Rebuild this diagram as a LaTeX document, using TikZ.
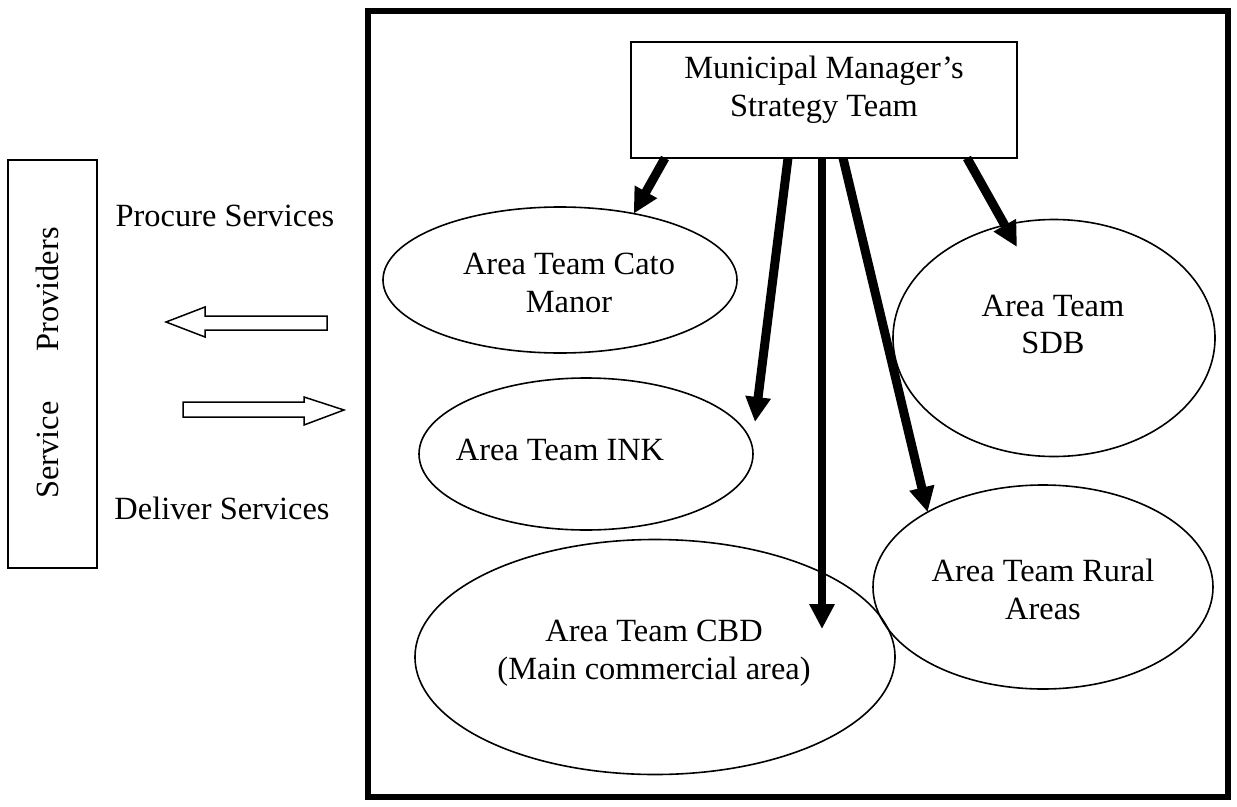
\documentclass[tikz,border=0pt]{standalone}
\usepackage{fontspec}
\setmainfont{Liberation Serif}
\usetikzlibrary{shapes.geometric,arrows.meta,calc}
\begin{document}
\begin{tikzpicture}[x=1pt,y=-1pt,
  every node/.style={font=\fontsize{32.4pt}{37.5pt}\selectfont, inner sep=0pt, outer sep=0pt, align=center},
  area/.style 2 args={ellipse, draw, line width=1.6pt, minimum width=#1, minimum height=#2},
  thinbox/.style={draw, line width=1.5pt},
  conn/.style={line width=9pt, -{Triangle[width=24pt,length=25pt]}},
  hollow/.style={draw, line width=1.5pt, line join=miter}]
\useasboundingbox (0,0) rectangle (1237,806);

% outer frame of the municipal organisation
\draw[line width=6pt] (368,11) rectangle (1228,797);

% service providers column
\node[thinbox, minimum width=89pt, minimum height=408pt] (prov) at (52.5,364) {};
\node[rotate=90] (provtxt) at (47.5,363) {Service\hspace{50pt}Providers};

% flows between providers and the municipality
\node (procure) at (225,215.5) {Procure Services};
\node (deliver) at (222,508.5) {Deliver Services};
\draw[hollow] (327,316) -- (205,316) -- (205,307) -- (166,322) -- (205,337) -- (205,330) -- (327,330) -- cycle;
\draw[hollow] (183,402) -- (304,402) -- (304,397) -- (344,410) -- (304,425) -- (304,417) -- (183,417) -- cycle;

% strategy team
\node[thinbox, minimum width=386pt, minimum height=116pt] (mgr) at (824,100) {};
\node (mgrtxt) at (824,90) {Municipal Manager’s\\Strategy Team};

% area teams
\node[area={354pt}{146pt}] (cato) at (560,280) {};
\node (catotxt) at (569,283) {Area Team Cato\\Manor};

\node[area={334pt}{152pt}] (ink) at (586,454) {};
\node (inktxt) at (560,450) {Area Team INK};

\node[area={480pt}{235pt}] (cbd) at (655,657) {};
\node (cbdtxt) at (654,653) {Area Team CBD\\(Main commercial area)};

\node[area={322pt}{237pt}] (sdb) at (1054,338) {};
\node (sdbtxt) at (1053,324.5) {Area Team\\SDB};

\node[area={340pt}{204pt}] (rural) at (1043,587) {};
\node (ruraltxt) at (1043,589.5) {Area Team Rural\\Areas};

% reporting lines
\draw[conn] ($(mgr.south west)+(34,0)$) -- (cato.42);
\draw[conn] ($(mgr.south west)+(157,0)$) -- ($(ink.center)+(169,-32)$);
\draw[conn, line width=8pt] ($(mgr.south west)+(191,0)$) -- ($(cbd.center)+(167,-28)$);
\draw[conn] ($(mgr.south west)+(212,0)$) -- (rural.147);
\draw[conn] ($(mgr.south west)+(336,0)$) -- ($(sdb.center)+(-37,-91)$);
\end{tikzpicture}
\end{document}
